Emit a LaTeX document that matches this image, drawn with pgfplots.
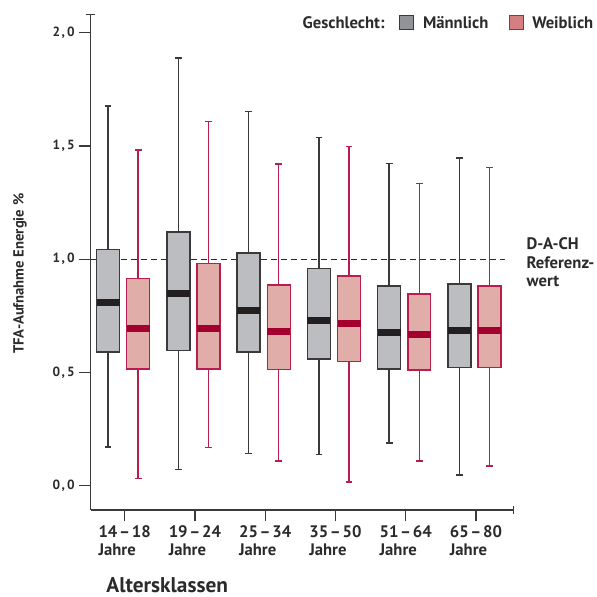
\documentclass[border=0pt]{standalone}
\usepackage{pgfplots}
\pgfplotsset{compat=1.18}
\usepgfplotslibrary{statistics}
\usepackage{fontspec}
\setmainfont{PT Sans}
\definecolor{mfill}{HTML}{BBBDC0}
\definecolor{mdraw}{HTML}{3A3A3A}
\definecolor{mmed}{HTML}{231F20}
\definecolor{ffill}{HTML}{E0ADA9}
\definecolor{fdraw}{HTML}{B71E4B}
\definecolor{fmed}{HTML}{A3002F}
\definecolor{mleg}{HTML}{909398}
\definecolor{fleg}{HTML}{D47F82}
\definecolor{axcol}{HTML}{3A3A3A}
\definecolor{txt}{HTML}{2B2B2B}
\pgfplotsset{
  mstyle/.style={solid, draw=mdraw, fill=mfill, line width=1.1pt,
    boxplot/draw direction=y,
    boxplot/box extend=0.327, boxplot/whisker extend=0.095,
    boxplot/every median/.style={draw=mmed, line width=5.25pt}},
  fstyle/.style={solid, draw=fdraw, fill=ffill, line width=1.1pt,
    boxplot/draw direction=y,
    boxplot/box extend=0.327, boxplot/whisker extend=0.095,
    boxplot/every median/.style={draw=fmed, line width=5.25pt}},
}
% draw position, lower whisker, lower quartile, median, upper quartile, upper whisker
\newcommand{\malebox}[6]{\addplot[mstyle, boxplot prepared={draw position=#1, lower whisker=#2, lower quartile=#3, median=#4, upper quartile=#5, upper whisker=#6}] coordinates {};}
\newcommand{\femalebox}[6]{\addplot[fstyle, boxplot prepared={draw position=#1, lower whisker=#2, lower quartile=#3, median=#4, upper quartile=#5, upper whisker=#6}] coordinates {};}
\newcommand{\rng}[2]{#1\kern1.3pt--\kern1.3pt#2}
\begin{document}
\begin{tikzpicture}
\begin{axis}[
  at={(0,0)}, anchor=south west,
  scale only axis, width=317.25pt, height=371.7pt,
  xmin=-0.484, xmax=5.533, ymin=-0.107, ymax=2.079,
  axis lines*=left, axis line style={axcol, line width=1pt},
  clip=false,
  tick align=outside, major tick length=8.5pt,
  tick style={axcol, line width=1pt},
  xtick={0,1,2,3,4,5},
  xticklabels={{\rng{14}{18}\\Jahre},{\rng{19}{24}\\Jahre},{\rng{25}{34}\\Jahre},{\rng{35}{50}\\Jahre},{\rng{51}{64}\\Jahre},{\rng{65}{80}\\Jahre}},
  xticklabel style={align=left, font=\bfseries\fontsize{12.5}{13.5}\selectfont, text=txt},
  ytick={0,0.5,1,1.5,2},
  yticklabels={{0\kern1.2pt,\kern1.5pt0},{0\kern1.2pt,\kern1.5pt5},{1\kern1.2pt,\kern1.5pt0},{1\kern1.2pt,\kern1.5pt5},{2\kern1.2pt,\kern1.5pt0}},
  yticklabel style={font=\bfseries\fontsize{10}{11}\selectfont, text=txt},
  xlabel={Altersklassen},
  xlabel style={at={(axis description cs:0.026,-0.166)}, anchor=base west, font=\bfseries\fontsize{16}{18}\selectfont, text=txt},
  ylabel={TFA-Aufnahme Energie \%},
  ylabel style={at={(axis description cs:-0.167,0.477)}, anchor=center, font=\bfseries\fontsize{11}{13}\selectfont, text=txt},
]
\addplot[txt, line width=0.9pt, dash pattern=on 4.5pt off 3pt] coordinates {(-0.484,1) (5.42,1)};
\malebox{-0.235}{0.171}{0.591}{0.807}{1.042}{1.675}
\femalebox{0.193}{0.031}{0.515}{0.694}{0.915}{1.482}
\malebox{0.765}{0.071}{0.596}{0.847}{1.119}{1.888}
\femalebox{1.193}{0.169}{0.515}{0.694}{0.981}{1.607}
\malebox{1.765}{0.143}{0.591}{0.773}{1.028}{1.651}
\femalebox{2.193}{0.110}{0.513}{0.681}{0.887}{1.420}
\malebox{2.765}{0.138}{0.560}{0.729}{0.959}{1.537}
\femalebox{3.193}{0.016}{0.548}{0.716}{0.925}{1.497}
\malebox{3.765}{0.188}{0.515}{0.676}{0.882}{1.422}
\femalebox{4.193}{0.110}{0.512}{0.667}{0.847}{1.335}
\malebox{4.765}{0.047}{0.522}{0.685}{0.891}{1.447}
\femalebox{5.193}{0.088}{0.522}{0.685}{0.881}{1.404}
\end{axis}
\begin{scope}[x=0.75pt, y=-0.75pt, shift={(-68.025pt,382.725pt)}]
\path (0,0) rectangle (597,594);
% axis end caps
\draw[axcol, line width=1pt] (86.5,14.7) -- (95,14.7);
\draw[axcol, line width=1pt] (513.7,506.3) -- (513.7,514.3);
% legend
\node[anchor=base east, inner sep=0pt, text=txt, font=\bfseries\fontsize{12.5}{14}\selectfont] at (385,29) {Geschlecht:};
\draw[mdraw, fill=mleg, line width=1pt] (399.5,15.5) rectangle (413.5,29.5);
\node[anchor=base west, inner sep=0pt, text=txt, font=\bfseries\fontsize{12.5}{14}\selectfont] at (423,29) {Männlich};
\draw[fdraw, fill=fleg, line width=1pt] (509.5,15.5) rectangle (523.5,29.5);
\node[anchor=base west, inner sep=0pt, text=txt, font=\bfseries\fontsize{12.5}{14}\selectfont] at (532.3,29) {Weiblich};
% reference label
\node[anchor=base west, inner sep=0pt, text=txt, font=\bfseries\fontsize{12.5}{14}\selectfont] at (526.7,250) {D-A-CH};
\node[anchor=base west, inner sep=0pt, text=txt, font=\bfseries\fontsize{12.5}{14}\selectfont] at (526.7,268.5) {Referenz-};
\node[anchor=base west, inner sep=0pt, text=txt, font=\bfseries\fontsize{12.5}{14}\selectfont] at (526.7,287) {wert};
\end{scope}
\end{tikzpicture}
\end{document}
